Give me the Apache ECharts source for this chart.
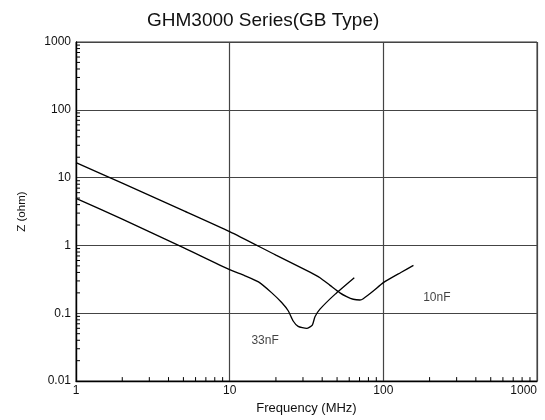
<!DOCTYPE html>
<html>
<head>
<meta charset="utf-8">
<script src="https://cdn.jsdelivr.net/npm/echarts@6/dist/echarts.min.js"></script>
<style>html,body{margin:0;padding:0;background:#fff}#c{width:545px;height:420px}</style>
</head>
<body>
<div id="c"></div>
<script>
var titleText = 'GHM3000 Series(GB Type)';
var xName = 'Frequency (MHz)';
var yName = 'Z (ohm)';

var freq10 = [1, 2, 5, 10, 20, 33.3, 38.7, 45, 52.2, 57.7, 63.7, 70.4, 74, 86, 100, 130, 157];
var z10    = [16.6, 8.3, 3.27, 1.6, 0.72, 0.405, 0.335, 0.258, 0.2, 0.176, 0.161, 0.157, 0.164, 0.213, 0.283, 0.40, 0.508];

var freq33 = [1, 2, 5, 10, 12.5, 15.4, 18.8, 21.8, 24.1, 25.9, 27.9, 31.7, 34.5, 35.9, 38.7, 48.4, 64.7];
var z33    = [4.95, 2.44, 0.93, 0.44, 0.36, 0.29, 0.2, 0.144, 0.108, 0.077, 0.064, 0.060, 0.067, 0.089, 0.115, 0.19, 0.335];

var labelNames = ['10nF', '33nF'];
var labelFreq  = [223, 17];
var labelZ     = [0.172, 0.04];

var xMinorTicks = [2,3,4,5,6,7,8,9,20,30,40,50,60,70,80,90,200,300,400,500,600,700,800,900];
var yMinorTicks = [0.02,0.03,0.04,0.05,0.06,0.07,0.08,0.09,0.2,0.3,0.4,0.5,0.6,0.7,0.8,0.9,2,3,4,5,6,7,8,9,20,30,40,50,60,70,80,90,200,300,400,500,600,700,800,900];

var FONT = "'Liberation Sans', Arial, sans-serif";
var X_MIN = 1, X_MAX = 1000, Y_MIN = 0.01, Y_MAX = 1000;

function pairs(xs, ys){ return xs.map(function(x,i){ return [x, ys[i]]; }); }

function renderTicks(params, api){
  var children = [];
  xMinorTicks.forEach(function(v){
    var p = api.coord([v, Y_MIN]);
    children.push({type: 'line', shape: {x1: p[0], y1: p[1], x2: p[0], y2: p[1] - 4}, style: {stroke: '#000', lineWidth: 1}});
  });
  yMinorTicks.forEach(function(v){
    var p = api.coord([X_MIN, v]);
    children.push({type: 'line', shape: {x1: p[0], y1: p[1], x2: p[0] + 4, y2: p[1]}, style: {stroke: '#000', lineWidth: 1}});
  });
  return {type: 'group', children: children};
}

var chart = echarts.init(document.getElementById('c'), null, {renderer:'canvas'});
chart.setOption({
  animation: false,
  backgroundColor: '#fff',
  title: {
    text: titleText, left: 147, top: 11, padding: 0,
    textStyle: {fontFamily: FONT, fontSize: 19, fontWeight: 'normal', color: '#111'}
  },
  grid: {left: 76, right: 8, top: 42, bottom: 38, show: true, borderColor: '#333', borderWidth: 1},
  xAxis: {
    type: 'log', logBase: 10, min: X_MIN, max: X_MAX,
    name: xName, nameLocation: 'middle', nameGap: 17,
    nameTextStyle: {fontFamily: FONT, fontSize: 13, color: '#111'},
    axisLine: {show: true, lineStyle: {color: '#000', width: 1.3}},
    axisTick: {show: false},
    minorTick: {show: false},
    axisLabel: {fontFamily: FONT, fontSize: 12, color: '#111', margin: 4, alignMaxLabel: 'right',
      formatter: function(v){ return String(+(+v).toPrecision(6)); }},
    splitLine: {show: true, lineStyle: {color: '#444', width: 1.2}}
  },
  yAxis: {
    type: 'log', logBase: 10, min: Y_MIN, max: Y_MAX,
    name: yName, nameLocation: 'middle', nameGap: 48,
    nameTextStyle: {fontFamily: FONT, fontSize: 11.5, color: '#111'},
    axisLine: {show: true, lineStyle: {color: '#000', width: 1.3}},
    axisTick: {show: false},
    minorTick: {show: false},
    axisLabel: {fontFamily: FONT, fontSize: 12, color: '#111', margin: 5,
      formatter: function(v){ return String(+(+v).toPrecision(6)); }},
    splitLine: {show: true, lineStyle: {color: '#444', width: 1.2}}
  },
  series: [
    {
      name: '10nF', type: 'line', data: pairs(freq10, z10), showSymbol: false, smooth: 0.2,
      lineStyle: {color: '#000', width: 1.3}, silent: true
    },
    {
      name: '33nF', type: 'line', data: pairs(freq33, z33), showSymbol: false, smooth: 0.2,
      lineStyle: {color: '#000', width: 1.3}, silent: true
    },
    {
      type: 'scatter', silent: true, symbolSize: 1,
      itemStyle: {color: 'rgba(0,0,0,0)'},
      data: labelNames.map(function(n, i){ return {name: n, value: [labelFreq[i], labelZ[i]]}; }),
      label: {show: true, position: 'inside', formatter: '{b}', fontFamily: FONT, fontSize: 12, color: '#111'}
    },
    {
      type: 'custom', silent: true, clip: false, z: 10,
      data: [[10, 1]],
      renderItem: renderTicks
    }
  ]
});
</script>
</body>
</html>
